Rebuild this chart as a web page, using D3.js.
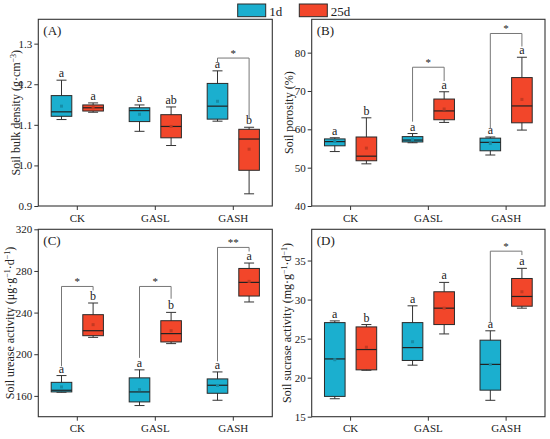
<!DOCTYPE html>
<html>
<head>
<meta charset="utf-8">
<script src="https://cdn.jsdelivr.net/npm/d3@7"></script>
<style>
  body { margin: 0; background: #fff; }
  text { font-family: "Liberation Serif", "Times New Roman", serif; fill: #222; }
</style>
</head>
<body>
<script>
"use strict";

// categories and series
var groups = ["CK", "GASL", "GASH"];
var series = ["1d", "25d"];
var colors = ["#1bafcf", "#f2462a"];

// box stats per group: [whisker low, q1, median, q3, whisker high, mean]
var densityD1  = [[1.113, 1.121, 1.132, 1.172, 1.210, 1.146], [1.084, 1.108, 1.135, 1.142, 1.149, 1.126], [1.109, 1.114, 1.146, 1.202, 1.233, 1.158]];
var densityD25 = [[1.131, 1.134, 1.142, 1.149, 1.154, 1.142], [1.049, 1.068, 1.096, 1.125, 1.144, 1.096], [0.930, 0.988, 1.065, 1.089, 1.094, 1.040]];
var porosityD1  = [[54.2, 55.7, 56.8, 57.5, 57.8, 56.9], [56.5, 56.7, 57.2, 58.1, 58.9, 57.3], [53.3, 54.4, 56.6, 57.7, 58.0, 56.3]];
var porosityD25 = [[51.0, 51.8, 53.0, 58.0, 63.0, 55.1], [61.8, 62.5, 64.8, 67.9, 69.8, 65.3], [59.8, 61.7, 66.1, 73.5, 78.8, 67.8]];
var ureaseD1  = [[163.5, 163.8, 165.4, 173.0, 179.5, 168.6], [150.7, 154.2, 163.8, 177.3, 185.0, 166.0], [155.8, 162.5, 170.2, 176.3, 183.0, 170.0]];
var ureaseD25 = [[216.2, 217.8, 222.6, 238.0, 249.2, 228.4], [210.2, 211.8, 219.8, 232.2, 240.2, 222.6], [250.2, 255.9, 269.0, 282.4, 287.6, 270.0]];
var sucraseD1  = [[17.3, 17.6, 22.4, 27.05, 27.27, 22.3], [21.6, 22.2, 23.85, 27.05, 29.2, 24.6], [17.1, 18.4, 21.7, 24.8, 26.0, 21.7]];
var sucraseD25 = [[20.95, 21.0, 23.6, 26.5, 26.8, 23.9], [25.6, 26.8, 28.9, 31.0, 32.2, 28.9], [28.9, 29.15, 30.4, 32.7, 34.0, 31.0]];

// significance letters
var densityLetters  = [["a", "a", "a"], ["a", "ab", "b"]];
var porosityLetters = [["a", "a", "a"], ["b", "a", "a"]];
var ureaseLetters   = [["a", "a", "a"], ["b", "b", "a"]];
var sucraseLetters  = [["a", "a", "a"], ["b", "a", "a"]];

// brackets: group, bar height, left leg end, right leg end, mark
var densityBrackets  = [["GASH", 1.2645, 1.2535, 1.116, "*"]];
var porosityBrackets = [["GASL", 76.2, 62.0, 72.6, "*"], ["GASH", 85.0, 60.3, 81.6, "*"]];
var ureaseBrackets   = [["CK", 265.1, 188.4, 261.3, "*"], ["GASL", 265.1, 196.5, 253.3, "*"], ["GASH", 302.6, 193.2, 298.7, "**"]];
var sucraseBrackets  = [["GASH", 36.2, 27.1, 35.7, "*"]];

// y ticks
var densityTicks  = [0.9, 1.0, 1.1, 1.2, 1.3];
var porosityTicks = [40, 50, 60, 70, 80];
var ureaseTicks   = [160, 200, 240, 280, 320];
var sucraseTicks  = [15, 20, 25, 30, 35];

var panels = [
  {tag: "(A)", x0: 38.3, x1: 272.3, y0: 19.3, y1: 206, domain: [0.9, 1.36], ticks: densityTicks, fmt: ".1f",
   data: [densityD1, densityD25], letters: densityLetters, brackets: densityBrackets, titleDx: -18.3,
   title: ["Soil bulk density (g\u00b7cm", "\u22123", ")"]},
  {tag: "(B)", x0: 311.7, x1: 545, y0: 19.3, y1: 206, domain: [40, 88.7], ticks: porosityTicks, fmt: "d",
   data: [porosityD1, porosityD25], letters: porosityLetters, brackets: porosityBrackets, titleDx: -18.4,
   title: ["Soil porosity (%)"]},
  {tag: "(C)", x0: 38.3, x1: 272.3, y0: 229.3, y1: 416.7, domain: [140, 320], ticks: ureaseTicks, fmt: "d",
   data: [ureaseD1, ureaseD25], letters: ureaseLetters, brackets: ureaseBrackets, titleDx: -24.5,
   title: ["Soil urease activity (\u03bcg\u00b7g", "\u22121", "\u00b7d", "\u22121", ")"]},
  {tag: "(D)", x0: 311.7, x1: 545, y0: 229.3, y1: 416.7, domain: [15, 39], ticks: sucraseTicks, fmt: "d",
   data: [sucraseD1, sucraseD25], letters: sucraseLetters, brackets: sucraseBrackets, titleDx: -20.7,
   title: ["Soil sucrase activity (mg\u00b7g", "\u22121", "\u00b7d", "\u22121", ")"]}
];

var boxW = 20.6, capW = 10;

var svg = d3.select("body").append("svg")
    .attr("width", 550)
    .attr("height", 439);

panels.forEach(function(p) {
  var x = d3.scaleBand().domain(groups).range([p.x0, p.x1]);
  var sub = d3.scalePoint().domain(series).range([-15.8, 15.8]);
  var y = d3.scaleLinear().domain(p.domain).range([p.y1, p.y0]);
  var cx = function(g) { return x(g) + x.bandwidth() / 2; };

  var g = svg.append("g");

  // axes
  g.append("g")
      .attr("transform", "translate(0," + p.y1 + ")")
      .call(d3.axisBottom(x).tickSize(4).tickSizeOuter(0).tickPadding(4))
      .call(function(a) { a.select(".domain").remove(); })
      .selectAll("text").style("font-size", "11px").style("font-family", "Liberation Serif");
  g.append("g")
      .attr("transform", "translate(" + p.x0 + ",0)")
      .call(d3.axisLeft(y).tickValues(p.ticks).tickFormat(d3.format(p.fmt)).tickSize(4).tickSizeOuter(0).tickPadding(2))
      .call(function(a) { a.select(".domain").remove(); })
      .selectAll("text").style("font-size", "11px").style("font-family", "Liberation Serif");
  g.selectAll(".tick line").attr("stroke", "#333");

  // frame
  g.append("rect")
      .attr("x", p.x0).attr("y", p.y0)
      .attr("width", p.x1 - p.x0).attr("height", p.y1 - p.y0)
      .attr("fill", "none").attr("stroke", "#333").attr("stroke-width", 1.1);

  // panel tag
  g.append("text")
      .attr("x", p.x0 + 5).attr("y", p.y0 + 16)
      .style("font-size", "13px")
      .text(p.tag);

  // y title
  var t = g.append("text")
      .attr("transform", "translate(" + (p.x0 + p.titleDx) + "," + ((p.y0 + p.y1) / 2) + ") rotate(-90)")
      .attr("text-anchor", "middle")
      .style("font-size", "12px");
  p.title.forEach(function(s, i) {
    var sup = i % 2 === 1;
    t.append("tspan")
        .attr("baseline-shift", sup ? "super" : null)
        .style("font-size", sup ? "8px" : null)
        .text(s);
  });

  // boxes
  series.forEach(function(s, si) {
    var rows = p.data[si];
    groups.forEach(function(gr, gi) {
      var d = rows[gi];
      var c = cx(gr) + sub(s);
      var bg = g.append("g");
      bg.append("line")
          .attr("x1", c).attr("x2", c)
          .attr("y1", y(d[0])).attr("y2", y(d[4]))
          .attr("stroke", "#333").attr("stroke-width", 1);
      [d[0], d[4]].forEach(function(v) {
        bg.append("line")
            .attr("x1", c - capW / 2).attr("x2", c + capW / 2)
            .attr("y1", y(v)).attr("y2", y(v))
            .attr("stroke", "#333").attr("stroke-width", 1);
      });
      bg.append("rect")
          .attr("x", c - boxW / 2).attr("y", y(d[3]))
          .attr("width", boxW).attr("height", y(d[1]) - y(d[3]))
          .attr("fill", colors[si]).attr("stroke", "#2a2a2a").attr("stroke-width", 1);
      bg.append("line")
          .attr("x1", c - boxW / 2).attr("x2", c + boxW / 2)
          .attr("y1", y(d[2])).attr("y2", y(d[2]))
          .attr("stroke", "#222").attr("stroke-width", 1.2);
      bg.append("rect")
          .attr("x", c - 1.5).attr("y", y(d[5]) - 1.5)
          .attr("width", 3).attr("height", 3)
          .attr("fill", d3.color(colors[si]).darker(0.6));
      bg.append("text")
          .attr("x", c).attr("y", y(d[4]) - 3)
          .attr("text-anchor", "middle")
          .style("font-size", "12px")
          .text(p.letters[si][gi]);
    });
  });

  // significance brackets
  p.brackets.forEach(function(b) {
    var l = cx(b[0]) + sub(series[0]), r = cx(b[0]) + sub(series[1]);
    g.append("path")
        .attr("d", "M" + l + "," + y(b[2]) + "V" + y(b[1]) + "H" + r + "V" + y(b[3]))
        .attr("fill", "none").attr("stroke", "#777").attr("stroke-width", 1);
    g.append("text")
        .attr("x", (l + r) / 2).attr("y", y(b[1]) - 1)
        .attr("text-anchor", "middle")
        .style("font-size", "11px")
        .text(b[4]);
  });
});

// legend
var legend = svg.append("g");
var legX = [237.7, 299.3];
series.forEach(function(s, i) {
  legend.append("rect")
      .attr("x", legX[i]).attr("y", 4)
      .attr("width", 28).attr("height", 12.7)
      .attr("fill", colors[i]).attr("stroke", "#2a2a2a").attr("stroke-width", 1);
  legend.append("text")
      .attr("x", legX[i] + 31.5).attr("y", 15.5)
      .style("font-size", "13px")
      .text(s);
});
</script>
</body>
</html>
